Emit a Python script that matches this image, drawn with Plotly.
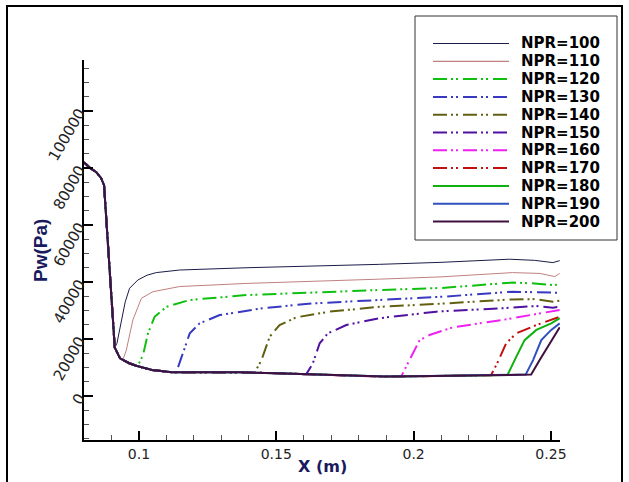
import plotly.graph_objects as go

# ---------------- data ----------------
labels = ["NPR=100", "NPR=110", "NPR=120", "NPR=130", "NPR=140", "NPR=150",
          "NPR=160", "NPR=170", "NPR=180", "NPR=190", "NPR=200"]

# shared upstream part of the wall-pressure curve
common_x = [0.0800, 0.0822, 0.0845, 0.0862, 0.0873, 0.0912, 0.0931, 0.0965, 0.0990,
            0.1048, 0.1121, 0.1250, 0.1369, 0.1500, 0.1588, 0.1734, 0.1894, 0.2000,
            0.2099, 0.2245, 0.2428]
common_y = [82000, 80000, 78500, 76500, 74000, 17000, 13200, 11500, 10600,
            9100, 8300, 8300, 8300, 8000, 7700, 7100, 6800, 6900,
            7000, 7200, 7500]

# branch (separated-flow) part of each curve
branch_x = [
    [0.0912, 0.0920, 0.0930, 0.0950, 0.0966, 0.0996, 0.1030, 0.1063, 0.1148, 0.1390, 0.1876, 0.2100, 0.2349, 0.2440, 0.2507, 0.2532],
    [0.0942, 0.0954, 0.0978, 0.1009, 0.1051, 0.1148, 0.1390, 0.1876, 0.2100, 0.2360, 0.2460, 0.2514, 0.2532],
    [0.0996, 0.1015, 0.1033, 0.1057, 0.1100, 0.1185, 0.1390, 0.1876, 0.2100, 0.2360, 0.2440, 0.2507, 0.2532],
    [0.1136, 0.1160, 0.1185, 0.1221, 0.1294, 0.1451, 0.1633, 0.1876, 0.2100, 0.2360, 0.2440, 0.2507, 0.2532],
    [0.1421, 0.1446, 0.1476, 0.1512, 0.1573, 0.1694, 0.1876, 0.2083, 0.2360, 0.2440, 0.2507, 0.2532],
    [0.1609, 0.1633, 0.1658, 0.1688, 0.1755, 0.1876, 0.2083, 0.2325, 0.2447, 0.2507, 0.2532],
    [0.1955, 0.1986, 0.2022, 0.2058, 0.2143, 0.2325, 0.2471, 0.2519, 0.2532],
    [0.2282, 0.2307, 0.2337, 0.2374, 0.2447, 0.2532],
    [0.2342, 0.2374, 0.2404, 0.2447, 0.2501, 0.2532],
    [0.2408, 0.2435, 0.2465, 0.2501, 0.2532],
    [0.2428, 0.2459, 0.2495, 0.2532],
]
branch_y = [
    [17000, 18500, 23200, 33000, 37800, 40700, 42400, 43300, 44200, 45000, 46200, 46900, 48000, 47600, 46800, 47500],
    [12800, 16100, 26700, 34300, 36600, 38400, 39500, 41000, 41800, 43300, 43000, 41900, 43000],
    [10600, 14400, 22000, 27800, 31300, 33700, 35400, 37200, 37900, 39800, 39500, 38900, 39200],
    [8300, 15000, 22000, 25500, 28400, 30800, 32500, 33700, 34800, 36600, 36400, 36000, 36200],
    [8100, 12600, 20800, 24900, 27600, 29600, 31300, 32300, 33900, 34000, 33100, 33400],
    [7600, 11400, 18500, 22000, 24900, 27300, 29600, 30800, 31600, 31000, 31300],
    [6900, 12600, 19600, 21400, 24100, 26700, 29200, 29900, 30200],
    [7300, 12000, 18500, 22000, 24900, 27800],
    [7400, 13800, 19600, 23200, 25500, 27300],
    [7500, 12600, 19600, 23200, 25500],
    [7500, 12600, 18500, 24100],
]

x_tick_vals = [0.1, 0.15, 0.2, 0.25]
x_tick_text = ["0.1", "0.15", "0.2", "0.25"]
y_tick_vals = [0, 20000, 40000, 60000, 80000, 100000]
y_tick_text = ["0", "20000", "40000", "60000", "80000", "100000"]

# ---------------- styles ----------------
colors = ["#1c1c48", "#c08080", "#10c010", "#3838c0", "#606010", "#5010a0",
          "#f020f0", "#c01010", "#10b010", "#3050c0", "#401040"]
DDD = "14px,4px,2px,3px,2px,5px"
dashes = ["solid", "solid", DDD, DDD, DDD, DDD, DDD, DDD, "solid", "solid", "solid"]
widths = [1, 1, 2, 2, 2, 2, 2, 2, 2, 2, 2]

# pixel geometry of the plot area
L, R, T, B = 84, 560, 60, 440
W, H = R - L, B - T
def px(x):
    return (x - L) / W
def py(y):
    return (B - y) / H

fig = go.Figure()
for i, name in enumerate(labels):
    bx, by = branch_x[i], branch_y[i]
    xs = [x for x in common_x if x < bx[0]] + bx
    ys = [y for x, y in zip(common_x, common_y) if x < bx[0]] + by
    fig.add_trace(go.Scatter(
        x=xs, y=ys, mode="lines", name=name, showlegend=False,
        line=dict(color=colors[i], width=widths[i], dash=dashes[i]),
    ))

shapes = [
    # outer frame
    dict(type="rect", xref="paper", yref="paper",
         x0=px(7), x1=px(622), y0=py(486), y1=py(6),
         line=dict(color="black", width=2), fillcolor="rgba(0,0,0,0)", layer="below"),
    # legend box
    dict(type="rect", xref="paper", yref="paper",
         x0=px(415), x1=px(617), y0=py(240), y1=py(16),
         line=dict(color="#333333", width=1), fillcolor="white", layer="above"),
]
annotations = [
    dict(text="<b>X (m)</b>", xref="paper", yref="paper",
         x=px(322), y=py(466), xanchor="center", yanchor="middle",
         showarrow=False, font=dict(family="DejaVu Sans", size=16, color="#1a1a5e")),
    dict(text="<b>Pw(Pa)</b>", xref="paper", yref="paper",
         x=px(40), y=py(251), xanchor="center", yanchor="middle",
         textangle=-90, showarrow=False,
         font=dict(family="Liberation Sans, Arial", size=19, color="#1a1a5e")),
]
# manual legend
for i, name in enumerate(labels):
    yy = 43.5 + i * 17.8
    shapes.append(dict(type="line", xref="paper", yref="paper",
                       x0=px(433), x1=px(509), y0=py(yy), y1=py(yy),
                       line=dict(color=colors[i], width=widths[i] if i > 1 else 1.2,
                                 dash=dashes[i]), layer="above"))
    annotations.append(dict(text="<b>%s</b>" % name, xref="paper", yref="paper",
                            x=px(519), y=py(yy), xanchor="left", yanchor="middle",
                            showarrow=False,
                            font=dict(family="DejaVu Sans", size=15, color="black")))

fig.update_layout(
    width=629, height=482,
    margin=dict(l=L, r=629 - R, t=T, b=482 - B),
    paper_bgcolor="white", plot_bgcolor="white",
    showlegend=False,
    xaxis=dict(
        range=[0.08, 0.2533], showgrid=False, zeroline=False,
        showline=True, linecolor="black", linewidth=2,
        ticks="inside", ticklen=9, tickwidth=1.5, tickcolor="black",
        tickvals=x_tick_vals, ticktext=x_tick_text,
        minor=dict(dtick=0.01, tick0=0.0, ticks="inside", ticklen=5, tickcolor="#555555", tickwidth=1),
        tickfont=dict(family="DejaVu Sans", size=14, color="#222222"),
    ),
    yaxis=dict(
        range=[-15440, 117900], showgrid=False, zeroline=False,
        showline=True, linecolor="black", linewidth=2,
        ticks="inside", ticklen=9, tickwidth=1.5, tickcolor="black",
        tickvals=y_tick_vals, ticktext=y_tick_text,
        tickangle=-60,
        minor=dict(dtick=5000, tick0=0, ticks="inside", ticklen=5, tickcolor="#555555", tickwidth=1),
        tickfont=dict(family="DejaVu Sans", size=15, color="#222222"),
    ),
    shapes=shapes,
    annotations=annotations,
)

fig.write_html("out.html")
